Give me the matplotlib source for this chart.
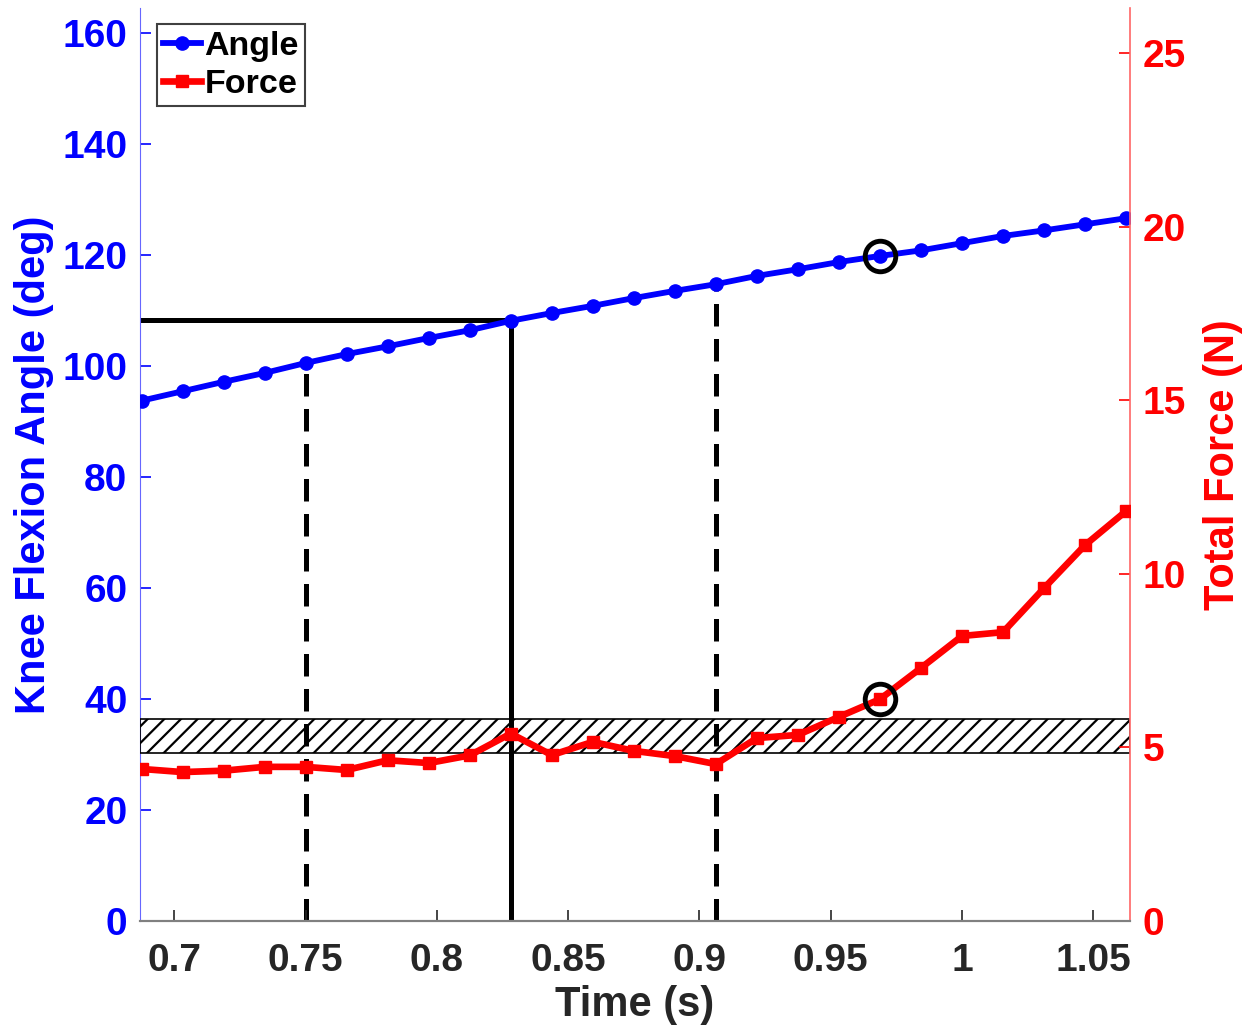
import matplotlib
matplotlib.use("Agg")
import matplotlib.pyplot as plt
import numpy as np

plt.rcParams['font.family'] = ['Liberation Sans', 'DejaVu Sans']
plt.rcParams['font.weight'] = 'bold'
plt.rcParams['axes.labelweight'] = 'bold'
plt.rcParams['hatch.linewidth'] = 1.6

# Daten, Abtastung 64 Hz
time = np.arange(44, 69) / 64.0
angle = [93.8, 95.5, 97.2, 98.8, 100.6, 102.2, 103.6, 105.1, 106.5, 108.2,
         109.6, 110.9, 112.3, 113.6, 114.8, 116.3, 117.5, 118.8, 119.9, 120.9,
         122.2, 123.5, 124.5, 125.6, 126.7]
force = [4.38, 4.29, 4.33, 4.44, 4.44, 4.35, 4.63, 4.55, 4.77, 5.40,
         4.78, 5.16, 4.90, 4.75, 4.52, 5.27, 5.36, 5.88, 6.39, 7.29,
         8.21, 8.32, 9.59, 10.83, 11.81]

t_dash = [0.75, 0.90625]
t_contact = 0.828125
angle_contact = 108.3
t_mark = 0.96875
band = (4.85, 5.81)  # Kraftschwelle

blue = '#0000ff'
red = '#ff0000'
grey = '#262626'

fig = plt.figure(figsize=(12.52, 10.36), dpi=100)
ax = fig.add_axes([0.1118, 0.111, 0.7908, 0.8813])
ax2 = ax.twinx()

xlim = (0.6869, 1.0640)
ax.set_xlim(xlim)
ax.set_ylim(0, 164.6)
ax2.set_ylim(0, 26.3)

# Kraftband (schraffiert)
ax2.fill_between(xlim, band[0], band[1], facecolor='none', edgecolor='black',
                 hatch='//', linewidth=1.2, zorder=1)

# Hilfslinien
for t in t_dash:
    a = np.interp(t, time, angle)
    ax.plot([t, t], [0, a], color='black', lw=3.6, ls=(0, (4.5, 2.5)), zorder=1)
ax.plot([t_contact, t_contact], [0, angle_contact], color='black', lw=3.6, zorder=1)
ax.plot([xlim[0], t_contact], [angle_contact, angle_contact], color='black', lw=3.6, zorder=1)

l1, = ax.plot(time, angle, color=blue, lw=4.2, marker='o', ms=9.5, label='Angle', zorder=3)
l2, = ax2.plot(time, force, color=red, lw=4.8, marker='s', ms=8, label='Force', zorder=3)

# Markierungen
ax.plot([t_mark], [np.interp(t_mark, time, angle)], marker='o', ms=22, mfc='none',
        mec='black', mew=3.5, zorder=4)
ax2.plot([t_mark], [np.interp(t_mark, time, force)], marker='o', ms=22, mfc='none',
         mec='black', mew=3.5, zorder=4)

ax.set_xticks([0.7, 0.75, 0.8, 0.85, 0.9, 0.95, 1.0, 1.05])
ax.set_xticklabels(['0.7', '0.75', '0.8', '0.85', '0.9', '0.95', '1', '1.05'])
ax.set_yticks(range(0, 161, 20))
ax2.set_yticks(range(0, 26, 5))

ax.tick_params(axis='x', direction='in', length=8, width=1.2, colors=grey,
               labelsize=28, pad=16)
ax.tick_params(axis='y', direction='in', length=8, width=1.2, colors=blue,
               labelsize=28, pad=9)
ax2.tick_params(axis='y', direction='in', length=8, width=1.2, colors=red,
                labelsize=28, pad=9)

for a in (ax, ax2):
    a.spines['top'].set_visible(False)
    a.spines['bottom'].set_color('#808080')
    a.spines['bottom'].set_linewidth(1.5)
ax.spines['right'].set_visible(False)
ax.spines['left'].set_color('#6666ff')
ax2.spines['left'].set_visible(False)
ax2.spines['right'].set_color('#ff6666')
ax2.spines['right'].set_linewidth(1.2)

ax.set_xlabel('Time (s)', fontsize=30, color=grey, labelpad=4)
ax.set_ylabel('Knee Flexion Angle (deg)', fontsize=30, color=blue, labelpad=6)
ax2.set_ylabel('Total Force (N)', fontsize=30, color=red, labelpad=12)

leg = ax2.legend(handles=[l1, l2], loc='upper left', bbox_to_anchor=(0.01, 0.99),
                 fontsize=24.5, handlelength=1.1, handletextpad=0.1, labelspacing=0.2,
                 borderpad=0.2, borderaxespad=0.2, fancybox=False, framealpha=1)
leg.get_frame().set_edgecolor('#404040')
leg.get_frame().set_linewidth(1.5)
leg.set_zorder(10)
ax2.set_zorder(ax.get_zorder() + 1)
ax2.patch.set_visible(False)

fig.savefig('out.png', dpi=100)
